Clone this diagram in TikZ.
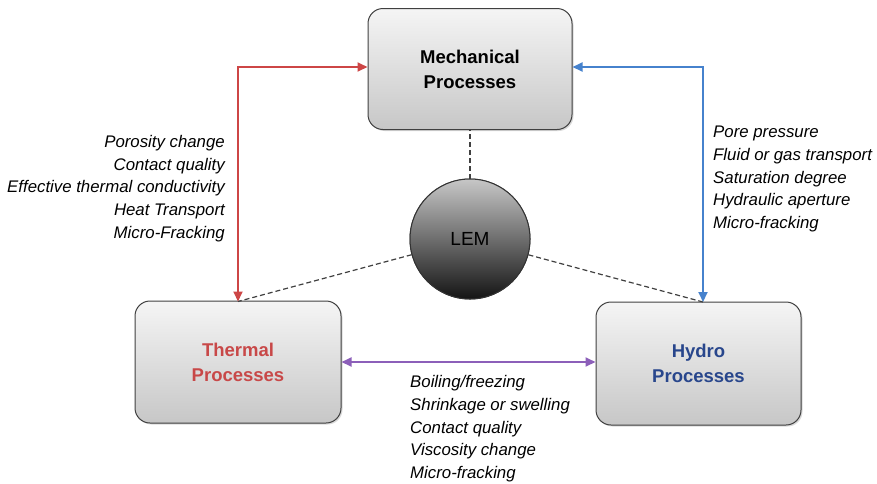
\documentclass[tikz,border=0pt]{standalone}
\usepackage{fontspec}
\setmainfont{Liberation Sans}
\usetikzlibrary{arrows.meta,shadows}
\definecolor{redc}{RGB}{205,70,70}
\definecolor{bluec}{RGB}{70,130,205}
\definecolor{purc}{RGB}{140,95,185}
\definecolor{redt}{RGB}{200,72,72}
\definecolor{bluet}{RGB}{40,70,140}
\begin{document}
\begin{tikzpicture}[x=1pt,y=-1pt,
  procbox/.style={draw=black!75,line width=1pt,rounded corners=15pt,top color=black!4,bottom color=black!22,
    drop shadow={shadow xshift=1.5pt,shadow yshift=-1.5pt,opacity=0.3},minimum width=#1,
    font=\bfseries\fontsize{18.5}{25}\selectfont,align=center,inner sep=0pt},
  lbl/.style={font=\itshape\fontsize{16.8}{22.7}\selectfont,inner sep=0pt},
  conn/.style={line width=1.8pt,{Triangle[length=10pt,width=9pt]}-{Triangle[length=10pt,width=9pt]}},
  lemstyle/.style={circle,draw=black!80,line width=1pt,minimum size=120pt,top color=black!22,bottom color=black!92,
    font=\fontsize{19}{22}\selectfont,inner sep=0pt},
  dsh/.style={line width=1.2pt,black!75,dash pattern=on 5pt off 3pt}]
\useasboundingbox (0,0) rectangle (877,483);
\node[procbox=204pt,minimum height=121pt] (mech) at (470,69) {Mechanical\\Processes};
\node[procbox=206pt,minimum height=122pt,text=redt] (therm) at (238,362) {Thermal\\Processes};
\node[procbox=205pt,minimum height=123pt,text=bluet] (hydro) at (698.5,363.5) {Hydro\\Processes};
\node[lemstyle] (lem) at (470,239) {LEM};
\coordinate (tT) at (238,301.5);
\coordinate (hT) at (703,302);
\coordinate (rc) at (238,67);
\coordinate (bc) at (703,67);
\draw[dsh] (lem.north) -- (mech.south);
\draw[dsh] (lem) -- (tT);
\draw[dsh] (lem) -- (hT);
\node[lemstyle] at (lem) {LEM};
\draw[conn,redc] (mech.west |- rc) -- (rc) -- (tT);
\draw[conn,bluec] (mech.east |- bc) -- (bc) -- (hT);
\draw[conn,purc] (therm.east) -- (hydro.west |- therm.east);
\node[lbl,align=right,anchor=north east] (ltxt) at (225,135) {Porosity change\\Contact quality\\Effective thermal conductivity\\Heat Transport\\Micro-Fracking};
\node[lbl,align=left,anchor=north west] (rtxt) at (713,126) {Pore pressure\\Fluid or gas transport\\Saturation degree\\Hydraulic aperture\\Micro-fracking};
\node[lbl,align=left,anchor=north west] (btxt) at (410,375.5) {Boiling/freezing\\Shrinkage or swelling\\Contact quality\\Viscosity change\\Micro-fracking};
\end{tikzpicture}
\end{document}
